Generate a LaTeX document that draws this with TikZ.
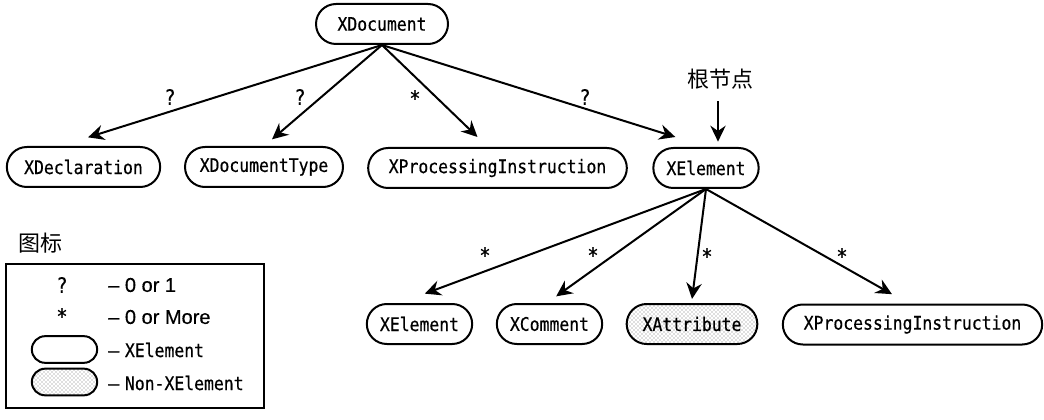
\documentclass[tikz,border=0pt]{standalone}
\usepackage{fontspec}
\setsansfont[FakeBold=0.4]{Liberation Sans}
\setmonofont[FakeStretch=0.88,FakeBold=0.5]{DejaVu Sans Mono}
\newfontfamily\cjkfont{Noto Sans CJK SC}
\usepackage{tikz}
\usetikzlibrary{arrows.meta,patterns,shapes.misc}
\tikzset{
  pill/.style={draw,line width=1.5pt,rounded rectangle,minimum height=30pt,inner sep=0pt,font=\ttfamily\fontsize{14}{14}\selectfont},
  nonpill/.style={pill,pattern=crosshatch dots,pattern color=black!55},
  link/.style={line width=1.5pt,-{Stealth[length=12pt,width=11.5pt,inset=4pt]}},
  mult/.style={inner sep=0.75pt,font=\ttfamily\fontsize{16}{16}\selectfont},
  legendtext/.style={anchor=west,inner sep=0pt,font=\sffamily\fontsize{15}{15}\selectfont}
}

\begin{document}
\begin{tikzpicture}[x=0.75pt,y=0.75pt,yscale=-1,xscale=1]
\useasboundingbox (0,0) rectangle (1044,420);

%Shape: top row
\node [pill,minimum width=99pt] (document) at (382,24) {XDocument};
\node [pill,minimum width=115pt] (declaration) at (83.5,167) {XDeclaration};
\node [pill,minimum width=118.5pt] (doctype) at (264,167) {XDocumentType};
\node [pill,minimum width=194pt] (procinstA) at (497.5,168) {XProcessingInstruction};
\node [pill,minimum width=79pt] (root) at (706,168) {XElement};

%Shape: bottom row
\node [pill,minimum width=79pt] (element) at (419.5,324) {XElement};
\node [pill,minimum width=79pt] (comment) at (549.5,324) {XComment};
\node [nonpill,minimum width=98pt] (attribute) at (692,324) {XAttribute};
\node [pill,minimum width=194.5pt] (procinstB) at (912.5,324.5) {XProcessingInstruction};

% Text Node
\node [inner sep=0.75pt,font=\cjkfont\fontsize{16.5}{16.5}\selectfont] (rootlabel) at (720,79) {根节点};
\node [inner sep=0.75pt,font=\cjkfont\fontsize{16.5}{16.5}\selectfont] (legendtitle) at (40,243) {图标};

%Straight Lines
\draw [link] (document.south) -- ([xshift=3.4pt,yshift=-6.5pt]declaration.north);
\draw [link] (document.south) -- ([xshift=6pt,yshift=-5pt]doctype.north);
\draw [link] (document.south) -- ([xshift=-15pt,yshift=-7.5pt]procinstA.north);
\draw [link] (document.south) -- ([xshift=-23pt,yshift=-7.5pt]root.north);
\draw [link] ([xshift=-1.5pt,yshift=8pt]rootlabel.south) -- ([xshift=9pt,yshift=-4pt]root.north);
\draw [link] (root.south) -- ([xshift=4pt,yshift=-7pt]element.north);
\draw [link] (root.south) -- ([xshift=5pt,yshift=-5pt]comment.north);
\draw [link] (root.south) -- ([yshift=-3pt]attribute.north);
\draw [link] (root.south) -- ([xshift=-15.4pt,yshift=-7pt]procinstB.north);

% Text Node
\node [mult] (markA) at (170,97) {?};
\node [mult] (markB) at (300,97) {?};
\node [mult] (markC) at (415,98) {*};
\node [mult] (markD) at (585,97) {?};
\node [mult] (markE) at (485,255) {*};
\node [mult] (markF) at (593,255) {*};
\node [mult] (markG) at (707,256) {*};
\node [mult] (markH) at (842,256) {*};

%Shape: legend
\node [draw,line width=1pt,inner sep=0pt,minimum width=193.5pt,minimum height=108pt] (legend) at (135,336) {};
\node [mult] (legendA) at (62,285) {?};
\node [mult] (legendB) at (62,316) {*};
\node [pill,minimum width=49pt,minimum height=20pt] (legendC) at (64.5,349.5) {};
\node [nonpill,minimum width=49pt,minimum height=20pt] (legendD) at (64.5,382) {};
\node [legendtext] (legendE) at (108,285) {– 0 or 1};
\node [legendtext] (legendF) at (108,317) {– 0 or More};
\node [legendtext] (legendG) at (108,350) {– {\ttfamily\fontsize{14}{14}\selectfont XElement}};
\node [legendtext] (legendH) at (108,383) {– {\ttfamily\fontsize{14}{14}\selectfont Non-XElement}};

\end{tikzpicture}
\end{document}
